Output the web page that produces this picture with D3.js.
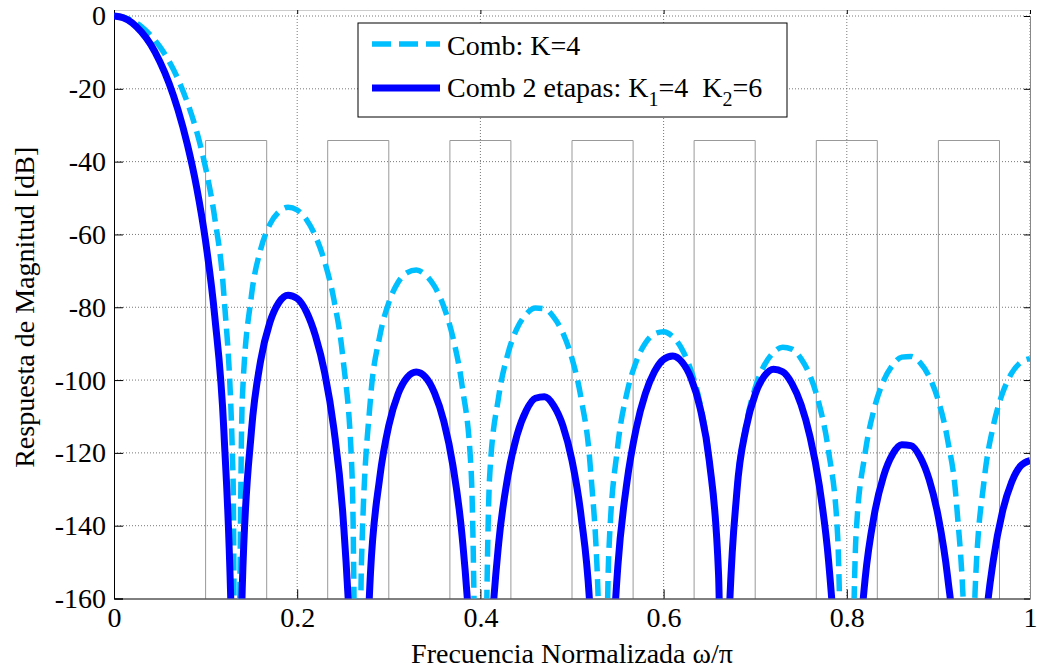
<!DOCTYPE html>
<html>
<head>
<meta charset="utf-8">
<script src="https://cdn.jsdelivr.net/npm/d3@7/dist/d3.min.js"></script>
<style>
  body { margin: 0; background: #fff; }
  text { font-family: 'Times New Roman', 'Liberation Serif', serif; fill: #000; }
</style>
</head>
<body>
<div id="graf"></div>
<script>
// I. Datos (en dB, cada 0.01 de frecuencia normalizada)
frecuencias = d3.range(101).map(i => i / 100)

combK4 = [
  0, -0.3, -1.3, -2.9, -5.3, -8.4, -12.4, -17.4, -23.7, -31.5,
  -41.7, -55.5, -76.7, -127.1, -105.7, -76.9, -64.2, -57.3, -53.8, -52.5,
  -53.3, -55.9, -60.5, -67.5, -77.8, -94.1, -126.5, -151.7, -105.2, -88.1,
  -78.7, -73.2, -70.5, -69.8, -71.1, -74.3, -79.8, -88.3, -101.5, -125.4,
  -250, -126.9, -104.5, -92.8, -85.8, -81.9, -80.2, -80.4, -82.7, -87.0,
  -94.1, -105.1, -123.9, -172.0, -148.6, -118.0, -103.5, -95.0, -89.9, -87.3,
  -86.7, -88.1, -91.5, -97.4, -106.7, -121.9, -153.3, -177.6, -130.3, -112.4,
  -102.1, -95.9, -92.4, -91.0, -91.5, -94.1, -98.9, -106.8, -119.4, -142.7,
  -250, -143.1, -120.1, -107.8, -100.3, -95.9, -93.7, -93.5, -95.2, -99.1,
  -105.7, -116.3, -134.6, -182.3, -158.4, -127.4, -112.5, -103.6, -98.1, -95.1,
  -94.1
]

comb2Etapas = [
  0, -0.5, -1.9, -4.4, -7.8, -12.5, -18.4, -25.9, -35.2, -46.8,
  -61.9, -82.5, -114.2, -189.7, -157.3, -114.1, -94.8, -84.3, -78.7, -76.7,
  -77.6, -81.2, -87.9, -98.0, -113.3, -137.4, -185.6, -223.1, -153.0, -127.0,
  -112.5, -103.9, -99.3, -97.8, -99.2, -103.6, -111.3, -123.5, -142.8, -178.0,
  -250, -179.0, -144.7, -126.4, -115.1, -108.4, -105.0, -104.6, -107.0, -112.5,
  -122.1, -137.5, -164.5, -235.4, -198.7, -151.3, -128.0, -113.4, -103.8, -97.7,
  -94.3, -93.4, -95.0, -99.5, -107.8, -122.4, -153.4, -177.6, -130.6, -113.2,
  -103.9, -98.9, -97.0, -97.7, -100.9, -106.7, -115.7, -129.0, -149.4, -185.5,
  -250, -188.1, -154.6, -137.0, -126.5, -120.4, -117.8, -118.0, -121.1, -127.4,
  -137.7, -153.9, -181.7, -253.5, -217.9, -171.5, -149.4, -136.1, -128.0, -123.5,
  -122.1
]

// ceros de la respuesta que caen entre muestras
nulos = [0.1333, 0.2667, 0.5333, 0.6667, 0.9333]
pisoNulo = -250

// bandas de rechazo (mascara gris)
bandaInicio = [0.1, 0.2333, 0.3667, 0.5, 0.6333, 0.7667, 0.9]
bandaFin    = [0.1667, 0.3, 0.4333, 0.5667, 0.7, 0.8333, 0.9667]
nivelMascara = -34.2

xTicks = [0, 0.2, 0.4, 0.6, 0.8, 1]
yTicks = [0, -20, -40, -60, -80, -100, -120, -140, -160]

// II. Configuracion
ancho_total = 1037
alto_total = 670
margins = { top: 16, left: 114, right: 7, bottom: 71.5 }
ancho = ancho_total - margins.left - margins.right
alto  = alto_total - margins.top - margins.bottom
techo = -6   // la caja sube un poco por encima de 0 dB

svg = d3.select('#graf').append('svg')
        .attr('width', ancho_total)
        .attr('height', alto_total)

g = svg.append('g')
       .attr('transform', `translate(${ margins.left }, ${ margins.top })`)

x = d3.scaleLinear().domain([0, 1]).range([0, ancho])
y = d3.scaleLinear().domain([-160, 0]).range([alto, 0])

// rejilla punteada
g.selectAll('.gx').data(xTicks.slice(1))
  .enter().append('line')
    .attr('x1', d => x(d)).attr('x2', d => x(d))
    .attr('y1', techo).attr('y2', alto)
    .attr('stroke', '#777').attr('stroke-width', 1)
    .attr('stroke-dasharray', '1,2')
g.selectAll('.gy').data(yTicks.slice(0, -1))
  .enter().append('line')
    .attr('x1', 0).attr('x2', ancho)
    .attr('y1', d => y(d)).attr('y2', d => y(d))
    .attr('stroke', '#777').attr('stroke-width', 1)
    .attr('stroke-dasharray', '1,2')

// mascara de bandas
mascara = g.append('g')
bandaInicio.forEach((b, i) => {
  mascara.append('path')
    .attr('d', d3.line()([[x(b), y(-160)], [x(b), y(nivelMascara)],
                          [x(bandaFin[i]), y(nivelMascara)], [x(bandaFin[i]), y(-160)]]))
    .attr('fill', 'none')
    .attr('stroke', '#999')
    .attr('stroke-width', 1)
})

// ejes (ticks hacia dentro, como en MATLAB)
yAxis = g.append('g')
  .call(d3.axisLeft(y).tickValues(yTicks).tickSize(-9).tickPadding(8).tickFormat(d => d))
xAxis = g.append('g')
  .attr('transform', `translate(0, ${ alto })`)
  .call(d3.axisBottom(x).tickValues(xTicks).tickSize(-9).tickPadding(9).tickFormat(d => d))
ejeArriba = g.append('g')
  .attr('transform', `translate(0, ${ techo })`)
  .call(d3.axisTop(x).tickValues(xTicks).tickSize(-4).tickFormat(''))
ejeDerecho = g.append('g')
  .attr('transform', `translate(${ ancho }, 0)`)
  .call(d3.axisRight(y).tickValues(yTicks).tickSize(-6).tickFormat(''))

g.selectAll('.domain').attr('stroke', '#000')
g.selectAll('.tick line').attr('stroke', '#000')
ejeArriba.select('.domain').attr('stroke', '#ccc')
ejeDerecho.select('.domain').attr('stroke', '#888')
g.selectAll('.tick text')
  .style('font-size', '28px')
  .style('font-family', "'Times New Roman', 'Liberation Serif', serif")

// curvas
g.append('clipPath').attr('id', 'recorte')
  .append('rect')
    .attr('x', 0).attr('y', techo)
    .attr('width', ancho).attr('height', alto - techo)

function puntos(valores) {
  p = frecuencias.map((f, i) => [f, valores[i]])
  nulos.forEach(f => p.push([f, pisoNulo]))
  return p.sort((a, b) => a[0] - b[0])
}

linea = d3.line()
  .x(d => x(d[0]))
  .y(d => y(d[1]))
  .curve(d3.curveMonotoneX)

curvas = g.append('g').attr('clip-path', 'url(#recorte)')
curvas.append('path')
  .attr('d', linea(puntos(combK4)))
  .attr('fill', 'none')
  .attr('stroke', '#00bfff')
  .attr('stroke-width', 5.5)
  .attr('stroke-dasharray', '17,8')
curvas.append('path')
  .attr('d', linea(puntos(comb2Etapas)))
  .attr('fill', 'none')
  .attr('stroke', '#0000ff')
  .attr('stroke-width', 7)
  .attr('stroke-linejoin', 'round')

// titulos de ejes
svg.append('text')
  .attr('x', margins.left + ancho / 2)
  .attr('y', 663)
  .attr('text-anchor', 'middle')
  .style('font-size', '28px')
  .text('Frecuencia Normalizada ω/π')

svg.append('text')
  .attr('transform', `translate(34, ${ margins.top + alto / 2 }) rotate(-90)`)
  .attr('text-anchor', 'middle')
  .style('font-size', '28px')
  .text('Respuesta de Magnitud [dB]')

// leyenda
leyenda = svg.append('g')
leyenda.append('rect')
  .attr('x', 358).attr('y', 23)
  .attr('width', 429).attr('height', 94)
  .attr('fill', '#fff').attr('stroke', '#000').attr('stroke-width', 1)
leyenda.append('line')
  .attr('x1', 372).attr('x2', 440).attr('y1', 44).attr('y2', 44)
  .attr('stroke', '#00bfff').attr('stroke-width', 5.5).attr('stroke-dasharray', '19,8')
leyenda.append('line')
  .attr('x1', 372).attr('x2', 440).attr('y1', 88).attr('y2', 88)
  .attr('stroke', '#0000ff').attr('stroke-width', 7)
leyenda.append('text')
  .attr('x', 447).attr('y', 55)
  .style('font-size', '28px')
  .text('Comb: K=4')
t2 = leyenda.append('text')
  .attr('x', 447).attr('y', 97)
  .style('font-size', '28px')
  .style('white-space', 'pre')
t2.append('tspan').text('Comb 2 etapas: K')
t2.append('tspan').attr('dy', 9).style('font-size', '20px').text('1')
t2.append('tspan').attr('dy', -9).text('=4  K')
t2.append('tspan').attr('dy', 9).style('font-size', '20px').text('2')
t2.append('tspan').attr('dy', -9).text('=6')
</script>
</body>
</html>
